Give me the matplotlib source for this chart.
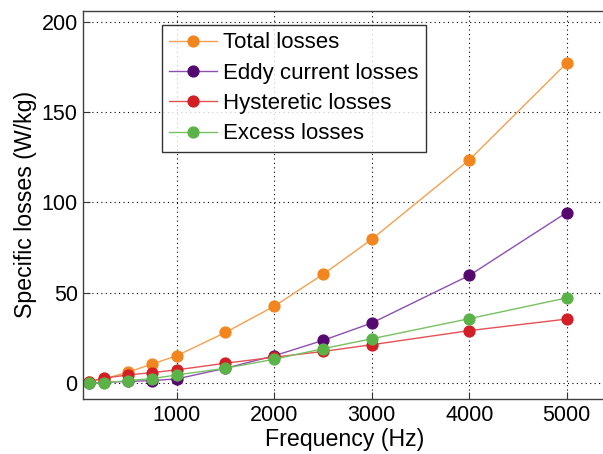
import matplotlib
matplotlib.use("Agg")
import matplotlib.pyplot as plt

freq = [100, 250, 500, 750, 1000, 1500, 2000, 2500, 3000, 4000, 5000]
total = [0.9, 2.4, 6.1, 10.7, 15.2, 28.1, 42.6, 60.2, 79.6, 123.5, 177.0]
eddy = [0.1, 0.5, 1.0, 1.5, 2.4, 8.3, 15.2, 23.7, 33.3, 59.6, 94.4]
hyst = [0.9, 2.8, 4.6, 5.9, 7.4, 11.1, 14.4, 17.6, 21.3, 29.1, 35.5]
excess = [0.0, 0.1, 1.5, 2.6, 4.6, 8.3, 13.3, 19.1, 24.6, 35.7, 47.2]

labels = ["Total losses", "Eddy current losses", "Hysteretic losses", "Excess losses"]
series = [total, eddy, hyst, excess]
line_colors = ["#F5A050", "#8E4FB0", "#E35056", "#78C064"]
marker_colors = ["#F2851E", "#55096F", "#D21E24", "#5BB348"]

plt.rcParams['font.family'] = ['Liberation Sans', 'DejaVu Sans']

fig = plt.figure(figsize=(6.03, 4.54), dpi=100)
ax = fig.add_axes([83.3/603, 55/454, (606-83.3)/603, (399-10.7)/454])

for y, lab, lc, mc in zip(series, labels, line_colors, marker_colors):
    ax.plot(freq, y, '-o', color=lc, lw=1.0, marker='o', markersize=7.8,
            markerfacecolor=mc, markeredgecolor=mc, label=lab)

ax.set_xlim(42, 5403)
ax.set_ylim(-8.7, 206)
ax.set_xticks([1000, 2000, 3000, 4000, 5000])
ax.set_yticks([0, 50, 100, 150, 200])
ax.grid(True, color='black', linestyle=(0, (1, 3)), linewidth=0.8)
ax.tick_params(direction='in', length=5, labelsize=15.5, color='#333333', width=0.8, pad=4)
for s in ax.spines.values():
    s.set_color('#404040')
    s.set_linewidth(1.0)
ax.set_xlabel("Frequency (Hz)", fontsize=16.7, labelpad=2)
ax.set_ylabel("Specific losses (W/kg)", fontsize=16.7, labelpad=3)

leg = ax.legend(loc='upper left', bbox_to_anchor=(161.7/603, (454-25)/454),
                bbox_transform=fig.transFigure, fontsize=16, frameon=True,
                fancybox=False, edgecolor='black', borderpad=0.33,
                labelspacing=0.42, handlelength=2.15, handletextpad=0.3,
                borderaxespad=0)
leg.get_frame().set_linewidth(1.0)

fig.savefig("out.png", dpi=100)
